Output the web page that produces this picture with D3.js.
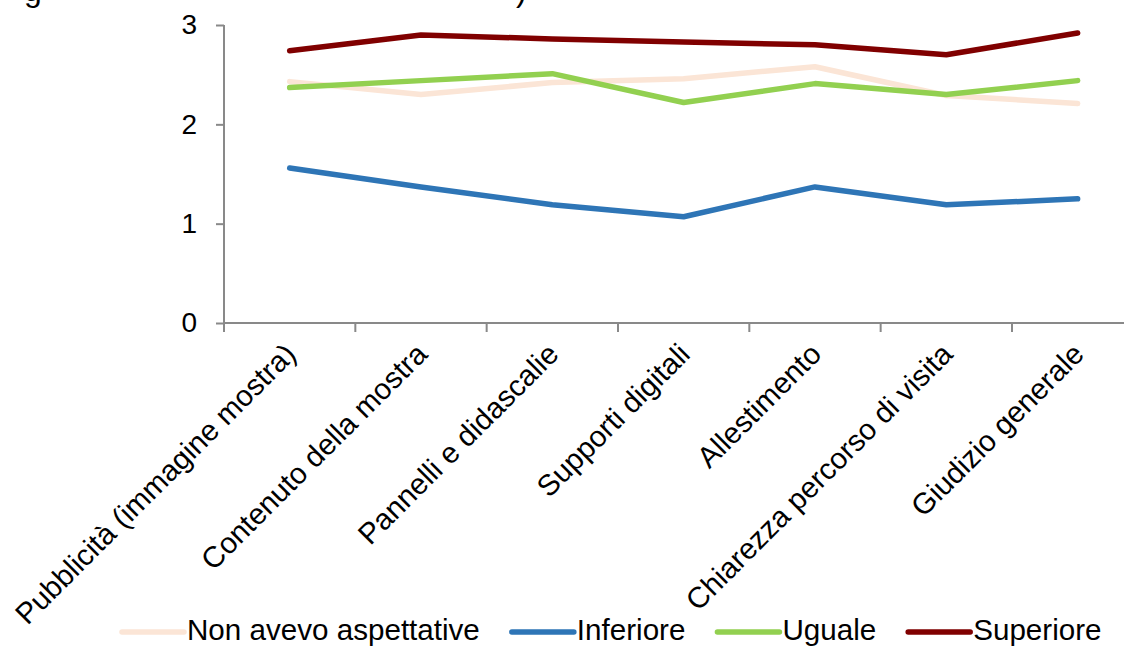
<!DOCTYPE html>
<html>
<head>
<meta charset="utf-8">
<script src="https://cdn.jsdelivr.net/npm/d3@7"></script>
<style>
  html, body { margin: 0; padding: 0; background: #fff; overflow: hidden; }
  svg { display: block; font-family: "Liberation Sans", Arial, sans-serif; }
</style>
</head>
<body>
<svg id="chart" width="1124" height="646"></svg>
<script>
const categories = ["Pubblicità (immagine mostra)", "Contenuto della mostra", "Pannelli e didascalie",
  "Supporti digitali", "Allestimento", "Chiarezza percorso di visita", "Giudizio generale"];
const seriesNames = ["Non avevo aspettative", "Inferiore", "Uguale", "Superiore"];
const nonAvevo  = [2.43, 2.30, 2.42, 2.46, 2.58, 2.29, 2.21];
const inferiore = [1.56, 1.37, 1.19, 1.07, 1.37, 1.19, 1.25];
const uguale    = [2.37, 2.44, 2.51, 2.22, 2.41, 2.30, 2.44];
const superiore = [2.74, 2.90, 2.86, 2.83, 2.80, 2.70, 2.92];
const yTicks = [0, 1, 2, 3];
const colors = ["#FBE5D6", "#2E75B6", "#92D050", "#800000"];

const series = [nonAvevo, inferiore, uguale, superiore].map((vals, i) => ({
  name: seriesNames[i], color: colors[i], values: vals
}));

const svg = d3.select("#chart");
const left = 224, step = 131.33;
const x = d3.scaleBand().domain(categories).range([left, left + step * categories.length]).padding(0);
const y = d3.scaleLinear().domain([0, 3]).range([323, 25]);
const axisColor = "#898989";

// title fragments (cropped at top of image, as in the reference)
svg.append("text").attr("x", 24).attr("y", 1).attr("font-size", 32).attr("fill", "#000").text("g");
svg.append("text").attr("x", 516).attr("y", 1).attr("font-size", 32).attr("fill", "#000").text(")");

// Y axis
const yAxis = svg.append("g").attr("transform", `translate(${left},0)`)
  .call(d3.axisLeft(y).tickValues(yTicks).tickFormat(d3.format("d")).tickSize(8).tickPadding(19));
yAxis.select(".domain").attr("stroke", axisColor).attr("stroke-width", 2).attr("d", `M0,${y(0)}V${y(3)}`);
yAxis.selectAll(".tick line").attr("stroke", axisColor).attr("stroke-width", 2);
yAxis.selectAll(".tick text").attr("font-size", 28).attr("fill", "#000").attr("font-family", "Liberation Sans, Arial, sans-serif");

// X axis: ticks at category boundaries
const boundaries = categories.map(c => x(c)).concat([x.range()[1]]);
const xAxis = svg.append("g");
xAxis.append("line").attr("x1", left).attr("x2", x.range()[1]).attr("y1", y(0)).attr("y2", y(0))
  .attr("stroke", axisColor).attr("stroke-width", 2);
xAxis.selectAll("line.tk").data(boundaries).join("line").attr("class", "tk")
  .attr("x1", d => d).attr("x2", d => d).attr("y1", y(0)).attr("y2", y(0) + 9)
  .attr("stroke", axisColor).attr("stroke-width", 2);
xAxis.selectAll("text").data(categories).join("text")
  .attr("transform", d => `translate(${x(d) + x.bandwidth() / 2 + 8},356) rotate(-45)`)
  .attr("text-anchor", "end").attr("font-size", 29.5).attr("fill", "#000").text(d => d);

// Lines
const line = d3.line().x((d, i) => x(categories[i]) + x.bandwidth() / 2).y(d => y(d));
svg.append("g").selectAll("path").data(series).join("path")
  .attr("d", d => line(d.values)).attr("fill", "none").attr("stroke", d => d.color)
  .attr("stroke-width", 5.5).attr("stroke-linecap", "round").attr("stroke-linejoin", "round");

// Legend
const legend = svg.append("g");
let lx = 122;
const ly = 632;
series.forEach(s => {
  legend.append("line").attr("x1", lx).attr("x2", lx + 62).attr("y1", ly).attr("y2", ly)
    .attr("stroke", s.color).attr("stroke-width", 5.5).attr("stroke-linecap", "round");
  const t = legend.append("text").attr("x", lx + 65).attr("y", 640).attr("font-size", 29.6)
    .attr("fill", "#000").text(s.name);
  lx += 65 + t.node().getComputedTextLength() + 32;
});
</script>
</body>
</html>
